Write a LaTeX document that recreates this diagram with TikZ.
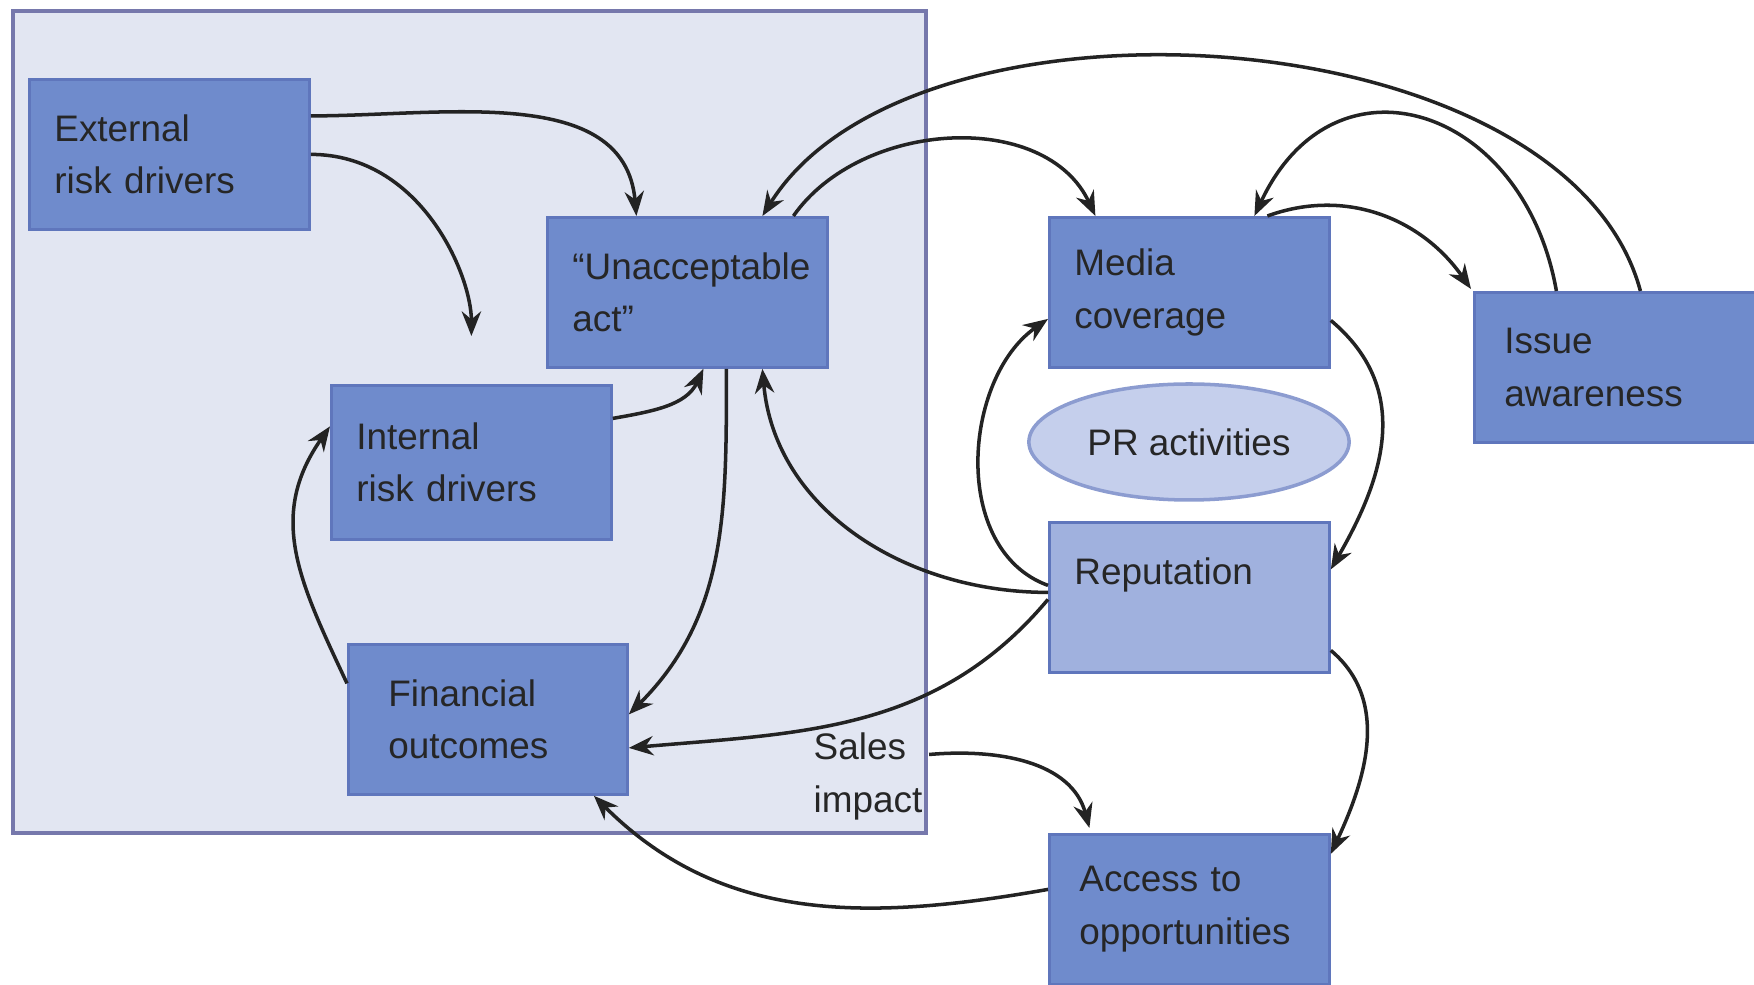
\documentclass[tikz,border=0pt]{standalone}
\usepackage{fontspec}
\setmainfont{Liberation Sans}
\usepackage{xcolor}
\usetikzlibrary{arrows.meta, shapes.geometric, calc}

\definecolor{boxfill}{RGB}{111,139,204}
\definecolor{boxedge}{RGB}{95,118,188}
\definecolor{repfill}{RGB}{160,177,222}
\definecolor{panelfill}{RGB}{226,230,242}
\definecolor{paneledge}{RGB}{118,120,172}
\definecolor{prfill}{RGB}{197,207,236}
\definecolor{predge}{RGB}{140,156,208}
\definecolor{linkcol}{RGB}{35,35,35}

\tikzset{
    riskbox/.style={draw=boxedge, fill=boxfill, line width=0.8pt, anchor=north west,
        inner xsep=0.25cm, inner ysep=0pt, text width=2.3cm, minimum height=1.5cm,
        align=left, text=black!85, font=\fontsize{10.5}{15}\selectfont},
    link/.style={draw=linkcol, line width=1pt, -{Stealth[length=7pt,width=5.5pt]}}
}

\begin{document}
\begin{tikzpicture}
        \useasboundingbox (0,0) rectangle (17.54,-9.85);

        % Draw the company panel
        \draw[paneledge, fill=panelfill, line width=1.2pt] (0.13,-0.11) rectangle (9.26,-8.33);

        % Draw the boxes
        \node[riskbox] (ext) at (0.28,-0.78) {External\\risk drivers};
        \node[riskbox] (act) at (5.46,-2.16) {“Unacceptable\\act”};
        \node[riskbox, minimum height=1.54cm] (int) at (3.30,-3.84) {Internal\\risk drivers};
        \node[riskbox, inner xsep=0.4cm, text width=1.99cm] (fin) at (3.47,-6.43) {Financial\\outcomes};
        \node[riskbox] (med) at (10.48,-2.16) {Media\\coverage};
        \node[riskbox, inner xsep=0.3cm, text width=2.21cm] (iss) at (14.73,-2.91) {Issue\\awareness};
        \node[riskbox, fill=repfill] (rep) at (10.48,-5.21) {Reputation\\\mbox{}};
        \node[riskbox, inner xsep=0.3cm, text width=2.2cm] (acc) at (10.48,-8.33) {Access to\\opportunities};

        \node[ellipse, draw=predge, fill=prfill, line width=1pt, minimum width=3.06cm, minimum height=1.16cm,
            text=black!85, font=\fontsize{10.5}{15}\selectfont] (pr) at (11.89,-4.42) {PR activities};

        \node[anchor=west, align=left, inner sep=0pt, text=black!85,
            font=\fontsize{10.5}{15}\selectfont] (sales) at (8.13,-7.765) {Sales\\impact};

        % Draw the links inside the company
        \draw[link] ([yshift=0.385cm]ext.east) to[out=0, in=95] ([xshift=-0.51cm]act.north);
        \draw[link, shorten >=0.48cm] (ext.east) to[out=0, in=90] (int.north);
        \draw[link] ([yshift=0.44cm]int.east) to[out=10, in=-115] ([xshift=0.16cm]act.south);
        \draw[link] ([xshift=0.39cm]act.south) to[out=-90, in=45] ([yshift=0.05cm]fin.east);
        \draw[link] ([yshift=0.36cm]fin.west) to[out=115, in=235, looseness=1.1] ([yshift=0.36cm]int.west);

        % Draw the links to the outside
        \draw[link] ([xshift=1.06cm]act.north) to[out=55, in=115] ([xshift=-0.94cm]med.north);
        \draw[link] ([xshift=0.255cm]iss.north) to[out=105, in=58, looseness=0.83] ([xshift=0.75cm]act.north);
        \draw[link] ([xshift=-0.585cm]iss.north) to[out=100, in=65, looseness=1.55] ([xshift=0.65cm]med.north);
        \draw[link] ([xshift=0.78cm]med.north) to[out=20, in=125] ([xshift=-0.02cm, yshift=0.02cm]iss.north west);
        \draw[link] ([yshift=0.12cm]rep.west) to[out=160, in=215] ([yshift=-0.265cm]med.west);
        \draw[link] ([yshift=-0.28cm]med.east) to[out=-40, in=60, looseness=1.1] ([yshift=0.28cm]rep.east);
        \draw[link] ([yshift=0.05cm]rep.west) to[out=180, in=-85] ([xshift=0.75cm]act.south);
        \draw[link] ([yshift=-0.02cm]rep.west) to[out=230, in=5] ([yshift=-0.285cm]fin.east);
        \draw[link] ([yshift=-0.53cm]rep.east) to[out=-40, in=65] ([yshift=0.555cm]acc.east);
        \draw[link] ([yshift=0.2cm]acc.west) to[out=190, in=-45] ([xshift=1.06cm]fin.south);
        \draw[link] ([yshift=0.22cm, xshift=0.06cm]sales.east) to[out=5, in=105] ([xshift=-1.0cm, yshift=0.05cm]acc.north);

    \end{tikzpicture}
\end{document}
